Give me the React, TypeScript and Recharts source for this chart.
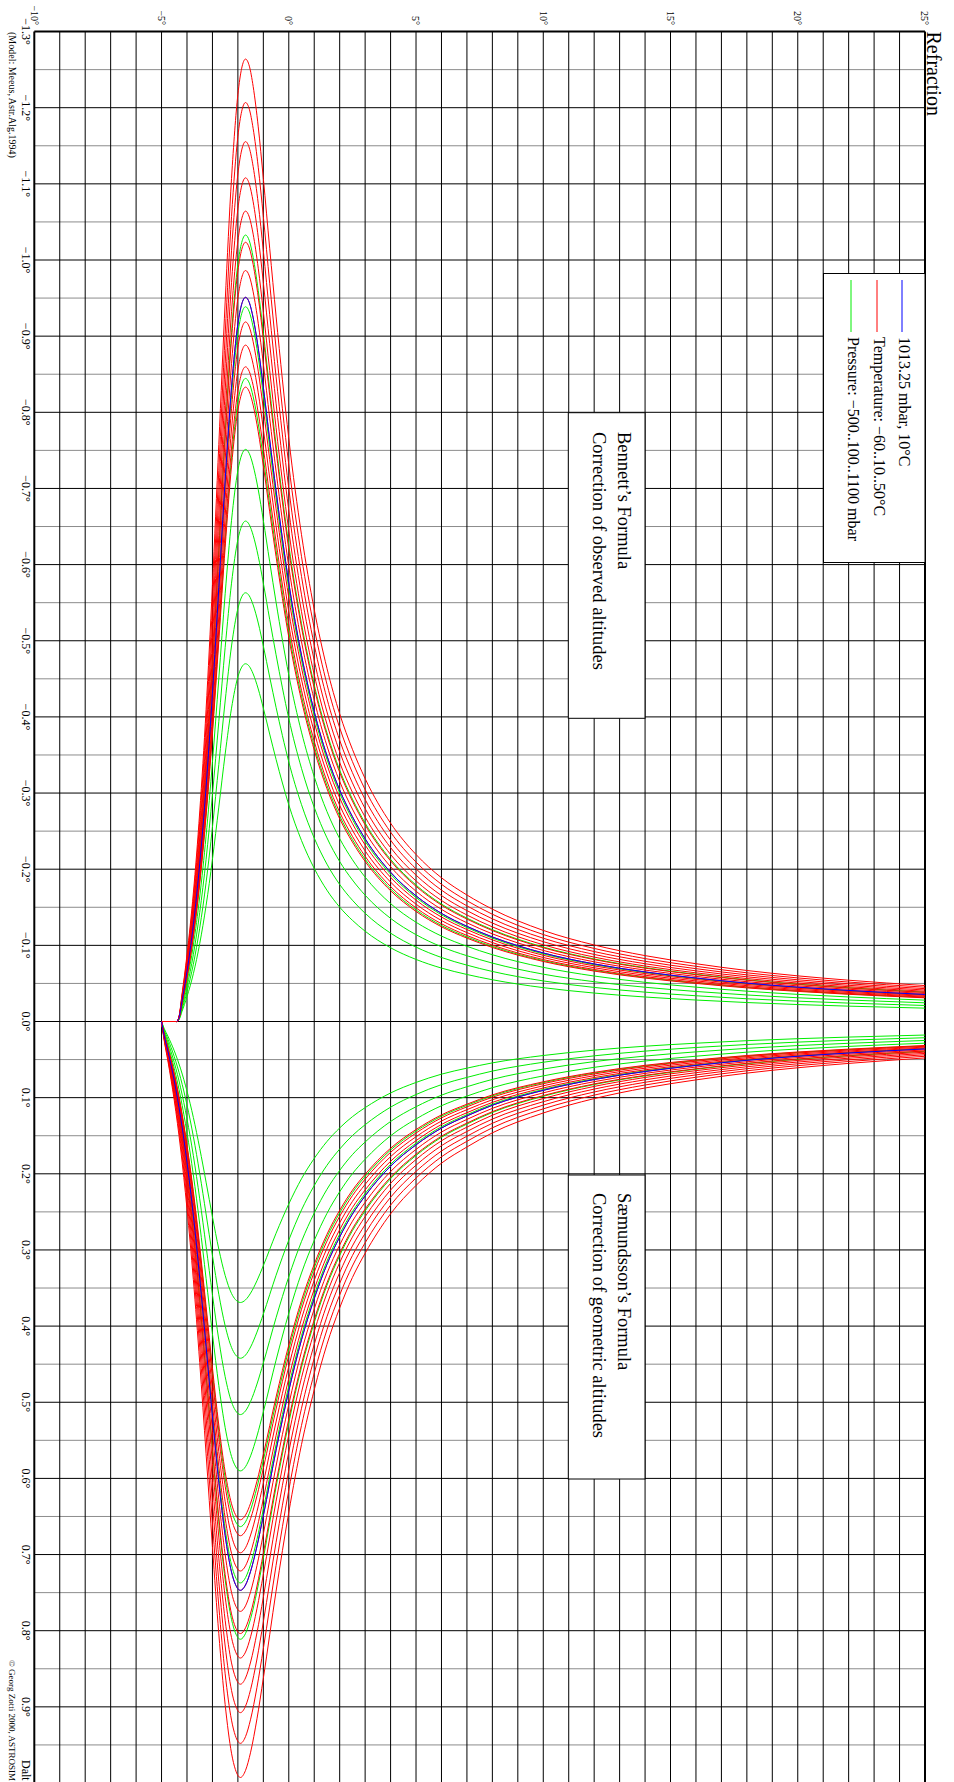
import React from "react";
import { ScatterChart, Scatter, XAxis, YAxis, ReferenceLine } from "recharts";

const FONT = "'Liberation Serif', 'Times New Roman', serif";

// Bennett's formula, blue curve (1013.25 mbar, 10°C): altitude (deg) -> correction (deg)
const bennettAlt = [
  -5, -4.4, -4.3, -4.2, -4.1, -4, -3.75, -3.5, -3.25, -3, -2.75, -2.5, -2.25, -2,
  -1.85, -1.7, -1.55, -1.4, -1.2, -1, -0.75, -0.5, -0.25, 0, 0.5, 1, 1.5, 2, 2.5, 3,
  4, 5, 6, 7, 8, 10, 12, 14, 16, 18, 20, 22, 25,
];
const bennettRef = [
  0, 0, -0.0065, -0.026, -0.045, -0.066, -0.127, -0.207, -0.308, -0.431, -0.57, -0.711,
  -0.833, -0.916, -0.942, -0.951, -0.944, -0.924, -0.884, -0.833, -0.764, -0.697, -0.634,
  -0.576, -0.481, -0.407, -0.349, -0.304, -0.269, -0.24, -0.196, -0.165, -0.142, -0.125,
  -0.111, -0.09, -0.0756, -0.0651, -0.0571, -0.0504, -0.0451, -0.0408, -0.0355,
];

// Saemundsson's formula, blue curve
const saemAlt = [
  -5, -4.9, -4.75, -4.5, -4.25, -4, -3.75, -3.5, -3.25, -3, -2.75, -2.5, -2.25,
  -2.1, -1.9, -1.7, -1.5, -1.25, -1, -0.5, 0, 0.5, 1, 1.5, 2, 2.5, 3, 4, 5, 6, 7, 8,
  10, 12, 14, 16, 18, 20, 22, 25,
];
const saemRef = [
  0, 0.018, 0.039, 0.078, 0.126, 0.185, 0.255, 0.337, 0.427, 0.519, 0.605, 0.675,
  0.723, 0.739, 0.747, 0.74, 0.722, 0.689, 0.649, 0.563, 0.485, 0.418, 0.364, 0.319,
  0.283, 0.253, 0.229, 0.19, 0.162, 0.14, 0.124, 0.11, 0.0904, 0.0762, 0.0657, 0.0577,
  0.051, 0.0457, 0.0414, 0.036,
];

// peak height of each curve relative to the blue one
const temperatures = [-60, -50, -40, -30, -20, -10, 0, 10, 20, 30, 40, 50];
const tempScale = [1.329, 1.269, 1.215, 1.165, 1.119, 1.076, 1.037, 1.0, 0.966, 0.934, 0.904, 0.876];
const pressures = [500, 600, 700, 800, 900, 1000, 1100];
const pressScale = [0.494, 0.592, 0.691, 0.79, 0.888, 0.987, 1.086];

const altTicks = [-10, -5, 0, 5, 10, 15, 20, 25];
const refrTicks = [
  -1.3, -1.2, -1.1, -1.0, -0.9, -0.8, -0.7, -0.6, -0.5, -0.4, -0.3, -0.2, -0.1,
  0, 0.1, 0.2, 0.3, 0.4, 0.5, 0.6, 0.7, 0.8, 0.9,
];

const altGrid: number[] = [];
for (let a = -9; a <= 24; a++) altGrid.push(a);
const refrGrid: { v: number; major: boolean }[] = [];
for (let i = -25; i <= 20; i++) refrGrid.push({ v: Math.round(i * 5) / 100, major: i % 2 === 0 });

const series = (alt: number[], ref: number[], k: number) =>
  alt.map((h, i) => ({ h, r: ref[i] * k }));

const minus = (s: string) => s.replace("-", "\u2212");
const fmtRefr = (v: number) => minus(v.toFixed(1)) + "°";
const fmtAlt = (v: number) => minus(String(v)) + "°";

const noDot = () => <g />;

function curve(key: string, data: { h: number; r: number }[], color: string) {
  return (
    <Scatter
      key={key}
      data={data}
      line={{ stroke: color, strokeWidth: 1 }}
      lineJointType="monotoneY"
      shape={noDot}
      fill={color}
      isAnimationActive={false}
    />
  );
}

export default function App() {
  const W = 1784;
  const H = 954;
  return (
    <div
      style={{
        position: "fixed",
        left: 0,
        top: 0,
        width: 954,
        height: 1782,
        overflow: "hidden",
        background: "#fff",
      }}
    >
      <div
        style={{
          position: "absolute",
          left: 0,
          top: 0,
          width: W,
          height: H,
          transformOrigin: "0 0",
          transform: "translateX(954px) rotate(90deg)",
        }}
      >
        <ScatterChart width={W} height={H} margin={{ top: 29, right: 1, bottom: 0, left: 0 }}>
          <XAxis
            type="number"
            dataKey="r"
            domain={[-1.3, 1.0]}
            allowDataOverflow
            ticks={refrTicks}
            interval={0}
            tickFormatter={fmtRefr}
            axisLine={false}
            tickLine={false}
            tickSize={0}
            tickMargin={4}
            height={34.3}
            tick={{ fontFamily: FONT, fontSize: 12, fill: "#000" }}
          />
          <YAxis
            type="number"
            dataKey="h"
            domain={[-10, 25]}
            allowDataOverflow
            ticks={altTicks}
            interval={0}
            tickFormatter={fmtAlt}
            axisLine={false}
            tickLine={false}
            tickSize={0}
            tickMargin={6.5}
            width={31.55}
            tick={{ fontFamily: FONT, fontSize: 10, fill: "#000" }}
          />
          {refrGrid.map((g) => (
            <ReferenceLine
              key={"x" + g.v}
              x={g.v}
              stroke={g.major ? "#000" : "#8c8c8c"}
              strokeWidth={1}
            />
          ))}
          {altGrid.map((a) => (
            <ReferenceLine key={"y" + a} y={a} stroke="#000" strokeWidth={1} />
          ))}
          <ReferenceLine x={-1.3} stroke="#000" strokeWidth={2} />
          <ReferenceLine y={-10} stroke="#000" strokeWidth={2} />
          <ReferenceLine y={25} stroke="#000" strokeWidth={2} />

          {pressures.map((p, i) => curve("bp" + p, series(bennettAlt, bennettRef, pressScale[i]), "#00ee00"))}
          {pressures.map((p, i) => curve("sp" + p, series(saemAlt, saemRef, pressScale[i]), "#00ee00"))}
          {temperatures.map((t, i) => curve("bt" + t, series(bennettAlt, bennettRef, tempScale[i]), "#ff0000"))}
          {temperatures.map((t, i) => curve("st" + t, series(saemAlt, saemRef, tempScale[i]), "#ff0000"))}
          {curve("bBlue", series(bennettAlt, bennettRef, 1).filter((p) => p.h >= -4.4), "#0000ff")}
          {curve("sBlue", series(saemAlt, saemRef, 1), "#0000ff")}
        </ScatterChart>

        <svg
          width={W}
          height={H}
          style={{ position: "absolute", left: 0, top: 0, pointerEvents: "none" }}
          fontFamily={FONT}
        >
          <text x={31.5} y={26.7} fontSize={20}>Refraction</text>

          <rect x={273.5} y={29} width={289} height={101.5} fill="#fff" stroke="#000" strokeWidth={1} />
          <line x1={280} x2={332} y1={52} y2={52} stroke="#0000ff" />
          <line x1={280} x2={332} y1={77} y2={77} stroke="#ff0000" />
          <line x1={280} x2={332} y1={103} y2={103} stroke="#00ee00" />
          <text x={337} y={55.5} fontSize={16}>1013.25 mbar, 10°C</text>
          <text x={337} y={80.5} fontSize={16}>Temperature: −60..10..50°C</text>
          <text x={337} y={106.5} fontSize={16}>Pressure: −500..100..1100 mbar</text>

          <rect x={412.7} y={309} width={305.6} height={76.7} fill="#fff" stroke="#000" strokeWidth={1} />
          <text x={432} y={336} fontSize={18.5}>Bennett’s Formula</text>
          <text x={432} y={361.5} fontSize={18.5}>Correction of observed altitudes</text>

          <rect x={1175} y={309} width={304} height={76.7} fill="#fff" stroke="#000" strokeWidth={1} />
          <text x={1193} y={336} fontSize={18.5}>Sæmundsson’s Formula</text>
          <text x={1193} y={361.5} fontSize={18.5}>Correction of geometric altitudes</text>

          <text x={32} y={945} fontSize={10}>(Model: Meeus, Astr.Alg.1994)</text>
          <text x={1660} y={945} fontSize={9}>© Georg Zotti 2000, ASTROSIM</text>
          <text x={1760} y={932.3} fontSize={12}>Dalt</text>
        </svg>
      </div>
    </div>
  );
}
